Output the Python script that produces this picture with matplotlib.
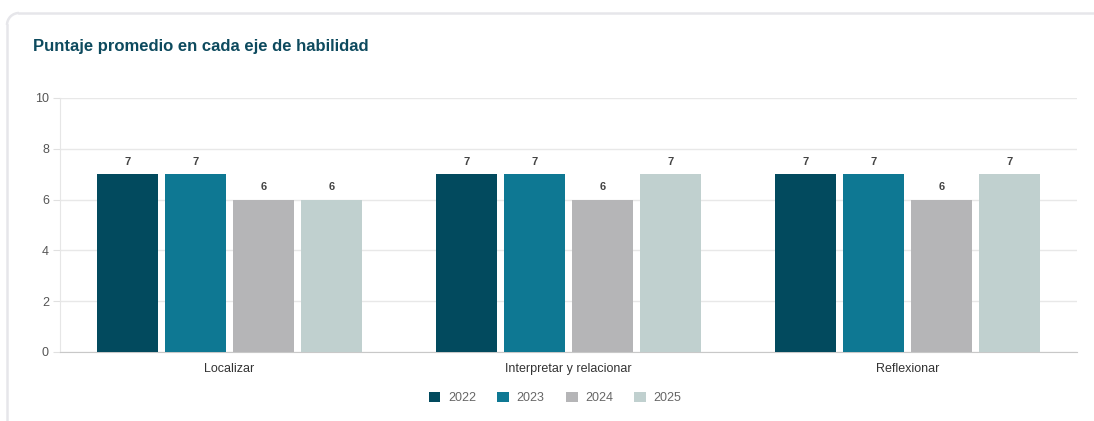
import matplotlib
matplotlib.use("Agg")
import matplotlib.pyplot as plt
from matplotlib.patches import Patch, Arc
from matplotlib.lines import Line2D
from matplotlib.transforms import IdentityTransform
import numpy as np

plt.rcParams["font.family"] = ["Liberation Sans", "DejaVu Sans"]

categories = ["Localizar", "Interpretar y relacionar", "Reflexionar"]
years = ["2022", "2023", "2024", "2025"]
values = {
    "2022": [7, 7, 7],
    "2023": [7, 7, 7],
    "2024": [6, 6, 6],
    "2025": [6, 7, 7],
}
colors = ["#024a5e", "#0e7893", "#b5b5b7", "#c0d0cf"]
title = "Puntaje promedio en cada eje de habilidad"

W, H = 1094, 421
fig = plt.figure(figsize=(W / 100, H / 100), dpi=100)
fig.patch.set_facecolor("white")

# card border (display pixel coords, origin bottom-left)
r = 12
top = H - 13
left = 7
edge = "#e6e6ea"
fig.add_artist(Line2D([left + r, W + 5], [top, top], transform=IdentityTransform(),
                      color=edge, linewidth=1.8, zorder=-5))
fig.add_artist(Line2D([left, left], [-5, top - r], transform=IdentityTransform(),
                      color=edge, linewidth=1.8, zorder=-5))
fig.add_artist(Arc((left + r, top - r), 2 * r, 2 * r, theta1=90, theta2=180,
                   transform=IdentityTransform(), color=edge, linewidth=1.8,
                   zorder=-5))

ax = fig.add_axes([60 / W, (H - 352) / H, (1077 - 60) / W, (352 - 98) / H])
ax.set_facecolor("none")
ax.set_zorder(2)

x = np.arange(len(categories))
pitch = 0.2
width = 0.18
for i, (yr, c) in enumerate(zip(years, colors)):
    offs = (i - 1.5) * pitch
    bars = ax.bar(x + offs, values[yr], width=width, color=c, zorder=3)
    for b, v in zip(bars, values[yr]):
        ax.text(b.get_x() + b.get_width() / 2, v + 0.3, str(v),
                ha="center", va="bottom", fontsize=8, fontweight="bold",
                color="#444444")

ax.set_xlim(-0.5, 2.5)
ax.set_ylim(0, 10)
ax.set_yticks([0, 2, 4, 6, 8, 10])
ax.set_xticks(x)
ax.set_xticklabels(categories)
ax.grid(axis="y", color="#e8e8e8", linewidth=1, zorder=0)
ax.set_axisbelow(True)
for s in ["top", "right"]:
    ax.spines[s].set_visible(False)
ax.spines["left"].set_color("#e6e6e6")
ax.spines["bottom"].set_color("#c8c8c8")
ax.tick_params(axis="y", length=5, color="#e0e0e0", labelsize=9,
               labelcolor="#555555", pad=3)
ax.tick_params(axis="x", length=0, labelsize=9, labelcolor="#333333", pad=8)

fig.text(33 / W, 1 - 46 / H, title, fontsize=12, fontweight="bold",
         color="#0d4a5e", va="center", ha="left")

handles = [Patch(facecolor=c, edgecolor="none") for c in colors]
fig.legend(handles, years, loc="center", bbox_to_anchor=(555 / W, 1 - 398 / H),
           ncol=4, frameon=False, fontsize=9, handlelength=0.95,
           handleheight=0.95, columnspacing=1.7, handletextpad=0.6,
           labelcolor="#666666")

fig.savefig("out.png", dpi=100)
